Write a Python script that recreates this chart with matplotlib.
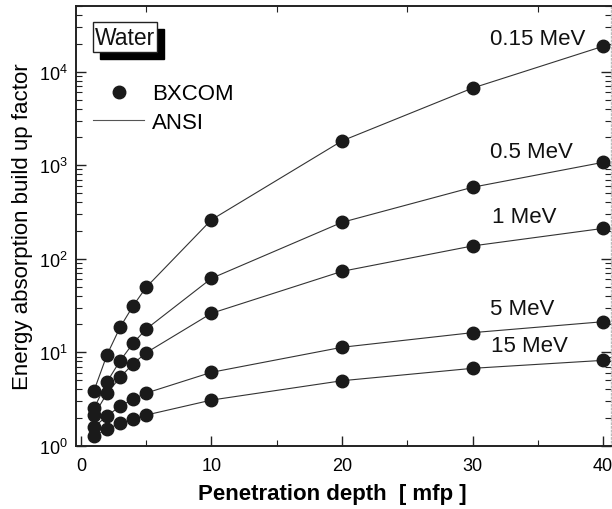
import numpy as np
import matplotlib
matplotlib.use("Agg")
import matplotlib.pyplot as plt
from matplotlib.lines import Line2D
from matplotlib.patches import Rectangle
from matplotlib.ticker import LogLocator, MultipleLocator, NullFormatter

plt.rcParams['font.family'] = ['Liberation Sans', 'DejaVu Sans']
plt.rcParams['mathtext.fontset'] = 'custom'
plt.rcParams['mathtext.rm'] = 'Liberation Sans'
plt.rcParams['mathtext.default'] = 'regular'

# penetration depth (mfp)
depth = [1, 2, 3, 4, 5, 10, 20, 30, 40]

# energy absorption build up factors, water
energies = ["0.15 MeV", "0.5 MeV", "1 MeV", "5 MeV", "15 MeV"]
b_015 = [3.87, 9.4, 18.5, 31.4, 49.5, 261, 1820, 6680, 18700]
b_05 = [2.51, 4.83, 8.1, 12.5, 17.7, 61.7, 245, 581, 1073]
b_1 = [2.13, 3.63, 5.39, 7.53, 9.88, 26.1, 73.3, 137, 211]
b_5 = [1.58, 2.09, 2.64, 3.16, 3.66, 6.1, 11.3, 16.2, 21.2]
b_15 = [1.26, 1.51, 1.74, 1.93, 2.13, 3.08, 4.96, 6.73, 8.19]
series = [b_015, b_05, b_1, b_5, b_15]

# label anchor points (depth, value)
label_x = [31.3, 31.3, 31.5, 31.3, 31.4]
label_y = [22400, 1400, 280, 29, 11.7]

ink = '#1a1a1a'

fig = plt.figure(figsize=(6.12, 5.1), dpi=100)
ax = fig.add_axes([0.1237, 0.124, 0.8747, 0.8617])

for vals in series:
    ax.plot(depth, vals, '-', color='#333333', lw=0.8, zorder=2)
    ax.plot(depth, vals, 'o', color=ink, ms=9, mec=ink, zorder=3, clip_on=False)

for name, lx, ly in zip(energies, label_x, label_y):
    ax.text(lx, ly, name, fontsize=16, ha='left', va='center', color='#111111')

ax.set_yscale('log')
ax.set_xlim(-0.4, 40.6)
ax.set_ylim(1, 5e4)

ax.xaxis.set_major_locator(MultipleLocator(10))
ax.xaxis.set_minor_locator(MultipleLocator(5))
ax.yaxis.set_major_locator(LogLocator(base=10, numticks=10))
ax.yaxis.set_minor_locator(LogLocator(base=10, subs=np.arange(2, 10), numticks=20))
ax.yaxis.set_minor_formatter(NullFormatter())

ax.tick_params(which='both', direction='in', right=True, labelsize=13, color='#222222')
ax.tick_params(which='major', length=7, width=1, top=False)
ax.tick_params(which='minor', length=4, width=0.8, top=True)
ax.tick_params(axis='x', pad=8)
ax.tick_params(axis='y', pad=6)

for side in ['left', 'bottom', 'top']:
    ax.spines[side].set_linewidth(1.4)
    ax.spines[side].set_color('#222222')
ax.spines['right'].set_color('#bbbbbb')
ax.spines['right'].set_linestyle(':')
ax.spines['right'].set_linewidth(1)

ax.set_ylabel("Energy absorption build up factor", fontsize=16, labelpad=4)
ax.set_xlabel("Penetration depth  [ mfp ]", fontsize=16, fontweight='bold', labelpad=4)
ax.xaxis.set_label_coords(0.48, -0.085)

# "Water" box with drop shadow
ax.add_patch(Rectangle((0.0453, 0.880), 0.1197, 0.068, transform=ax.transAxes,
                       fc='black', ec='black', zorder=5))
ax.add_patch(Rectangle((0.0323, 0.896), 0.1197, 0.068, transform=ax.transAxes,
                       fc='white', ec='#222222', lw=1, zorder=6))
ax.text(0.092, 0.930, "Water", transform=ax.transAxes, fontsize=16.5, color='#111111',
        ha='center', va='center', zorder=7)

handles = [Line2D([], [], ls='none', marker='o', color=ink, ms=9),
           Line2D([], [], ls='-', color='#555555', lw=0.8)]
ax.legend(handles, ["BXCOM", "ANSI"], loc='upper left', bbox_to_anchor=(0.016, 0.845),
          frameon=False, fontsize=16, handlelength=2.3, handletextpad=0.35,
          labelspacing=0.33, borderaxespad=0)

fig.savefig("out.png", dpi=100)
